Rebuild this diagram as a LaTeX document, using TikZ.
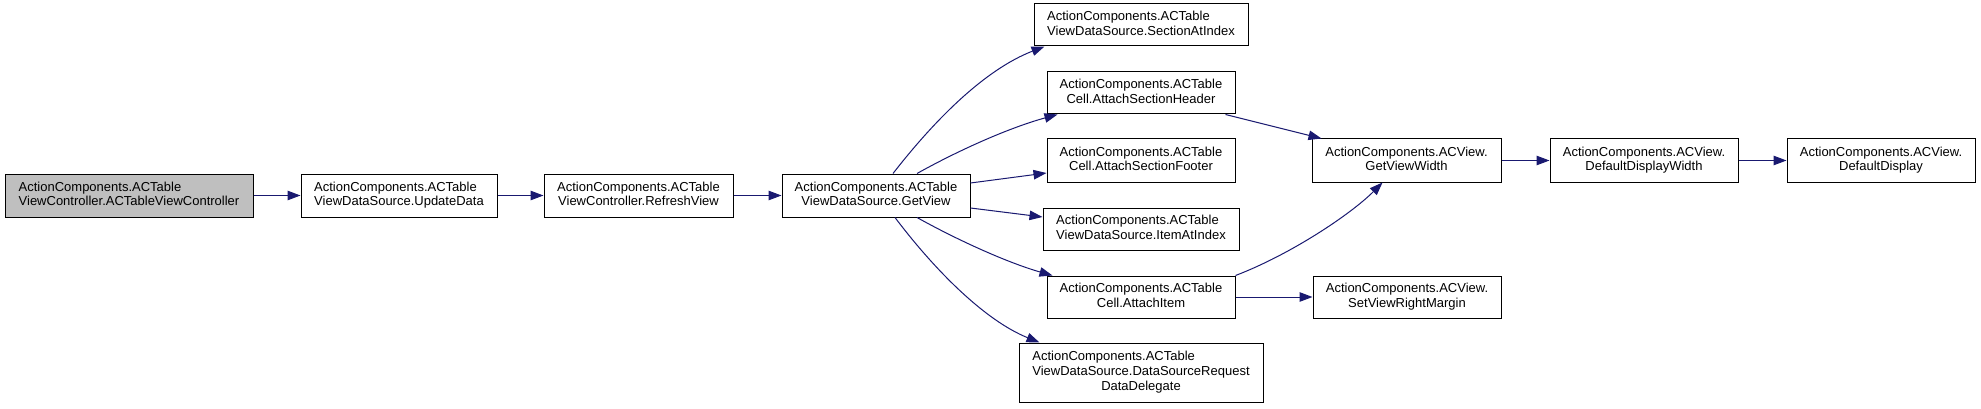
\documentclass[tikz,border=0pt]{standalone}
\usepackage{fontspec}
\setmainfont{Liberation Sans}
\usetikzlibrary{arrows.meta}
\definecolor{edgec}{HTML}{191970}
\definecolor{rootfill}{HTML}{BFBFBF}
\newcommand{\lbltwo}[2]{\begin{tabular}{@{}l@{}}#1\\\multicolumn{1}{@{}c@{}}{#2}\end{tabular}}
\newcommand{\lblthree}[3]{\begin{tabular}{@{}l@{}}#1\\#2\\\multicolumn{1}{@{}c@{}}{#3}\end{tabular}}
\tikzset{
  fnbox/.style={draw=black, line width=1pt, fill=white, inner sep=0pt, minimum height=43pt,
    font=\fontsize{13}{14.6}\selectfont},
  rootbox/.style={fnbox, fill=rootfill},
  edge/.style={draw=edgec, line width=1pt, -{Triangle[length=13pt,width=9.5pt,fill=edgec]}}
}
\begin{document}
\begin{tikzpicture}[x=1pt,y=-1pt]
\useasboundingbox (0,0) rectangle (1981,409);
\node[rootbox, minimum width=248pt] (A) at (129,195.5) {\lbltwo{ActionComponents.ACTable}{ViewController.ACTableViewController}};
\node[fnbox, minimum width=196pt] (B) at (399,195.5) {\lbltwo{ActionComponents.ACTable}{ViewDataSource.UpdateData}};
\node[fnbox, minimum width=189pt] (C) at (638.5,195.5) {\lbltwo{ActionComponents.ACTable}{ViewController.RefreshView}};
\node[fnbox, minimum width=188pt] (D) at (876,195.5) {\lbltwo{ActionComponents.ACTable}{ViewDataSource.GetView}};
\node[fnbox, minimum width=214pt, minimum height=42pt] (E1) at (1141,25) {\lbltwo{ActionComponents.ACTable}{ViewDataSource.SectionAtIndex}};
\node[fnbox, minimum width=188pt, minimum height=42pt] (E2) at (1141,93) {\lbltwo{ActionComponents.ACTable}{Cell.AttachSectionHeader}};
\node[fnbox, minimum width=188pt] (E3) at (1141,160.5) {\lbltwo{ActionComponents.ACTable}{Cell.AttachSectionFooter}};
\node[fnbox, minimum width=196pt, minimum height=42pt] (E4) at (1141,229) {\lbltwo{ActionComponents.ACTable}{ViewDataSource.ItemAtIndex}};
\node[fnbox, minimum width=188pt, minimum height=42pt] (E5) at (1141,297) {\lbltwo{ActionComponents.ACTable}{Cell.AttachItem}};
\node[fnbox, minimum width=244pt, minimum height=59pt] (E6) at (1141,372.5) {\lblthree{ActionComponents.ACTable}{ViewDataSource.DataSourceRequest}{DataDelegate}};
\node[fnbox, minimum width=189pt] (F1) at (1406.5,160.5) {\lbltwo{ActionComponents.ACView.}{GetViewWidth}};
\node[fnbox, minimum width=188pt, minimum height=42pt] (F2) at (1407,297) {\lbltwo{ActionComponents.ACView.}{SetViewRightMargin}};
\node[fnbox, minimum width=188pt] (G) at (1644,160.5) {\lbltwo{ActionComponents.ACView.}{DefaultDisplayWidth}};
\node[fnbox, minimum width=188pt] (H) at (1881,160.5) {\lbltwo{ActionComponents.ACView.}{DefaultDisplay}};

\draw[edge] (A.east) -- (B.west);
\draw[edge] (B.east) -- (C.west);
\draw[edge] (C.east) -- (D.west);
\draw[edge] ([xshift=17pt]D.north) .. controls ([xshift=59pt,yshift=54pt]D.north) and ([xshift=109pt,yshift=104pt]D.north) .. ([xshift=11pt]E1.south west);
\draw[edge] ([xshift=41pt]D.north) .. controls ([xshift=84pt,yshift=24pt]D.north) and ([xshift=134pt,yshift=46pt]D.north) .. ([xshift=11pt]E2.south west);
\draw[edge] ([yshift=12.5pt]D.east) -- ([yshift=-12.5pt]E3.west);
\draw[edge] ([yshift=-12.5pt]D.east) -- ([yshift=12pt]E4.west);
\draw[edge] ([xshift=41pt]D.south) .. controls ([xshift=84pt,yshift=-24pt]D.south) and ([xshift=134pt,yshift=-46pt]D.south) .. ([xshift=6pt]E5.north west);
\draw[edge] ([xshift=19pt]D.south) .. controls ([xshift=59pt,yshift=-53pt]D.south) and ([xshift=109pt,yshift=-103pt]D.south) .. ([xshift=21pt]E6.north west);
\draw[edge] ([xshift=-10pt]E2.south east) -- ([xshift=10pt]F1.north west);
\draw[edge] (E5.north east) .. controls ([xshift=55pt,yshift=21pt]E5.north east) and ([xshift=115pt,yshift=61pt]E5.north east) .. ([xshift=-24pt]F1.south);
\draw[edge] (E5.east) -- (F2.west);
\draw[edge] (F1.east) -- (G.west);
\draw[edge] (G.east) -- (H.west);
\end{tikzpicture}
\end{document}
